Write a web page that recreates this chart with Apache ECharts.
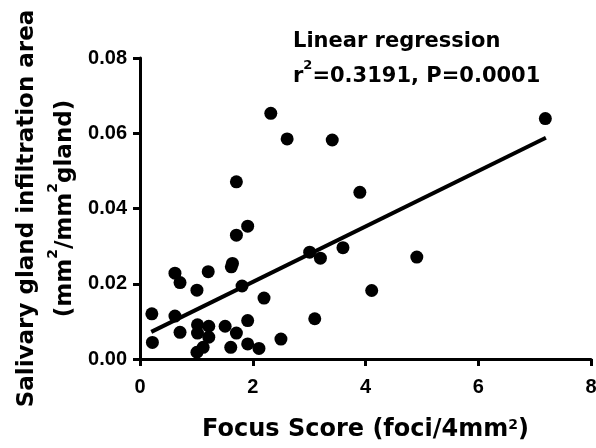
<!DOCTYPE html>
<html>
<head>
<meta charset="utf-8">
<script src="https://cdn.jsdelivr.net/npm/echarts@6/dist/echarts.min.js"></script>
<style>
  html, body { margin: 0; padding: 0; background: #fff; }
  #chart { width: 596px; height: 448px; }
</style>
</head>
<body>
<div id="chart"></div>
<script>
// 数据：焦点评分 vs 唾液腺浸润面积
var focusScore = [0.21, 0.22, 0.62, 0.71, 0.62, 0.71, 1.01, 1.02, 1.02, 1.01,
  1.12, 1.21, 1.22, 1.22, 1.51, 1.62, 1.64, 1.71, 1.61, 1.71,
  1.71, 1.91, 1.81, 1.91, 1.91, 2.11, 2.20, 2.50, 2.32, 2.61,
  3.01, 3.20, 3.10, 3.41, 3.60, 3.90, 4.11, 4.91, 7.19];
var infiltration = [0.0120, 0.0044, 0.0228, 0.0203, 0.0114, 0.0071, 0.0183, 0.0091, 0.0069, 0.0018,
  0.0031, 0.0232, 0.0087, 0.0058, 0.0087, 0.0245, 0.0254, 0.0069, 0.0031, 0.0471,
  0.0329, 0.0353, 0.0194, 0.0102, 0.0040, 0.0028, 0.0162, 0.0053, 0.0653, 0.0585,
  0.0284, 0.0268, 0.0107, 0.0582, 0.0296, 0.0443, 0.0182, 0.0271, 0.0639];
// 回归线两端
var fitX = [0.2, 7.2];
var fitY = [0.0072, 0.0588];
var xTicks = [0, 2, 4, 6, 8];
var yTicks = [0, 0.02, 0.04, 0.06, 0.08];

var titleFont = "DejaVu Sans";
var tickFont = "Liberation Sans";

var chart = echarts.init(document.getElementById("chart"));

var points = focusScore.map(function (x, i) { return [x, infiltration[i]]; });
var fitLine = fitX.map(function (x, i) { return [x, fitY[i]]; });

var axisLine = { lineStyle: { color: "#000", width: 3 } };
var axisTick = { inside: false, length: 7, lineStyle: { color: "#000", width: 3 } };
var supStyle = { fontSize: 14, fontWeight: "bold", fontFamily: titleFont, color: "#000", verticalAlign: "top" };

var option = {
  animation: false,
  backgroundColor: "#fff",
  title: {
    text: "Linear regression\nr{s|2}=0.3191, P=0.0001",
    left: 293,
    top: 24,
    padding: 0,
    textStyle: {
      fontFamily: titleFont,
      fontWeight: "bold",
      fontSize: 21,
      lineHeight: 35,
      color: "#000",
      rich: { s: { fontSize: 13, fontWeight: "bold", fontFamily: titleFont, color: "#000", verticalAlign: "top" } }
    }
  },
  grid: { left: 140, right: 5, top: 58, bottom: 89, containLabel: false, outerBoundsMode: "none" },
  xAxis: {
    type: "value",
    min: xTicks[0],
    max: xTicks[xTicks.length - 1],
    interval: 2,
    name: "Focus Score (foci/4mm{s|2})",
    nameLocation: "middle",
    nameGap: 59,
    nameMoveOverlap: false,
    nameTextStyle: {
      fontFamily: titleFont, fontWeight: "bold", fontSize: 24, color: "#000",
      rich: { s: supStyle }
    },
    axisLine: axisLine,
    axisTick: axisTick,
    splitLine: { show: false },
    axisLabel: { fontFamily: tickFont, fontWeight: "bold", fontSize: 20, color: "#000", margin: 18 }
  },
  yAxis: {
    type: "value",
    min: yTicks[0],
    max: yTicks[yTicks.length - 1],
    interval: 0.02,
    name: "Salivary gland infiltration area\n(mm{s|2}/mm{s|2}gland)",
    nameLocation: "middle",
    nameRotate: 90,
    nameGap: 56,
    nameMoveOverlap: false,
    nameTextStyle: {
      fontFamily: titleFont, fontWeight: "bold", fontSize: 23, color: "#000", lineHeight: 38,
      rich: { s: supStyle }
    },
    axisLine: axisLine,
    axisTick: axisTick,
    splitLine: { show: false },
    axisLabel: {
      fontFamily: tickFont, fontWeight: "bold", fontSize: 20, color: "#000", margin: 13,
      formatter: function (v) { return v.toFixed(2); }
    }
  },
  series: [
    {
      type: "scatter",
      data: points,
      symbol: "circle",
      symbolSize: 13,
      itemStyle: { color: "#000", opacity: 1 }
    },
    {
      type: "line",
      data: fitLine,
      symbol: "none",
      lineStyle: { color: "#000", width: 4 }
    }
  ]
};

chart.setOption(option);
</script>
</body>
</html>
